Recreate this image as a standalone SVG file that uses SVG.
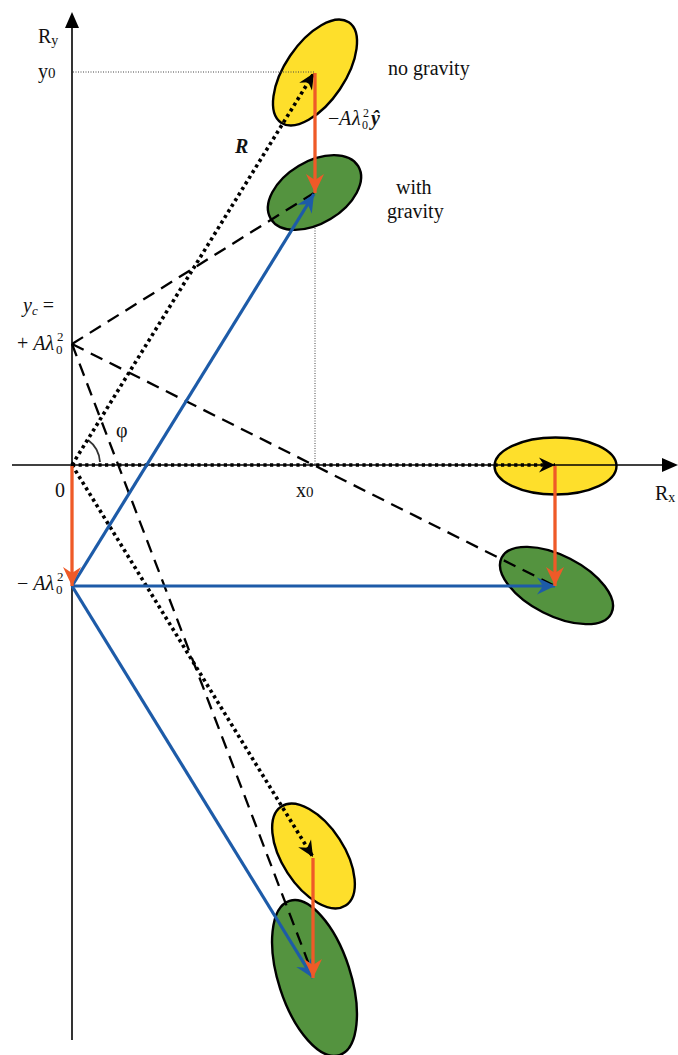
<svg xmlns="http://www.w3.org/2000/svg" width="678" height="1055" viewBox="0 0 678 1055">
<style>
.t{font-family:"Liberation Serif","Times New Roman",serif;font-size:20px;fill:#111}
.i{font-style:italic}
.yel{fill:#FEDF2B;stroke:#000;stroke-width:2.4}
.grn{fill:#54933F;stroke:#000;stroke-width:2.4}
.dot{fill:none;stroke:#000;stroke-width:3.6;stroke-dasharray:3.2 3.4}
.dash{fill:none;stroke:#000;stroke-width:2.3;stroke-dasharray:13 8}
.red{fill:none;stroke:#EF5A28;stroke-width:3.3}
.blue{fill:none;stroke:#1D5BA8;stroke-width:3.2}
.thin{fill:none;stroke:#444;stroke-width:1;stroke-dasharray:1 1.5}
.axis{fill:none;stroke:#000;stroke-width:1.6}
</style>
<defs>
<marker id="mk" viewBox="-18 -9 20 18" refX="0" refY="0" markerWidth="20" markerHeight="18" markerUnits="userSpaceOnUse" orient="auto"><path d="M0,0 L-16,-7.5 L-11,0 L-16,7.5 Z" fill="#000"/></marker>
<marker id="mr" viewBox="-20 -10 22 20" refX="0" refY="0" markerWidth="22" markerHeight="20" markerUnits="userSpaceOnUse" orient="auto"><path d="M0,0 L-19,-9 L-13,0 L-19,9 Z" fill="#EF5A28"/></marker>
<marker id="mb" viewBox="-20 -10 22 20" refX="0" refY="0" markerWidth="22" markerHeight="20" markerUnits="userSpaceOnUse" orient="auto"><path d="M0,0 L-18,-8.5 L-12,0 L-18,8.5 Z" fill="#1D5BA8"/></marker>
</defs>

<g id="node-top-yellow"><ellipse class="yel" cx="315" cy="72.5" rx="60.5" ry="30" transform="rotate(-56 315 72.5)"/></g>
<g id="node-top-green"><ellipse class="grn" cx="314.5" cy="192.5" rx="51" ry="31" transform="rotate(-31 314.5 192.5)"/></g>
<g id="node-right-yellow"><ellipse class="yel" cx="555.5" cy="466" rx="61" ry="28.5"/></g>
<g id="node-right-green"><ellipse class="grn" cx="556.5" cy="585.5" rx="61.5" ry="30" transform="rotate(27 556.5 585.5)"/></g>
<g id="node-bottom-yellow"><ellipse class="yel" cx="313.5" cy="856" rx="59" ry="31" transform="rotate(57 313.5 856)"/></g>
<g id="node-bottom-green"><ellipse class="grn" cx="314.5" cy="978" rx="81" ry="36" transform="rotate(72 314.5 978)"/></g>

<g id="connectors">
  <line class="axis" x1="72" y1="24" x2="72" y2="1040"/>
  <polygon points="72,12 65,28 79,28" fill="#000"/>
  <line class="axis" x1="12" y1="465" x2="665" y2="465"/>
  <polygon points="678,465 662,458 662,472" fill="#000"/>
  <line class="thin" x1="73" y1="72" x2="315" y2="72"/>
  <line class="thin" x1="315" y1="228" x2="315" y2="465"/>
  <path d="M88,440 Q99,448 100,462" fill="none" stroke="#333" stroke-width="1.8"/>
  <line class="dot" x1="72" y1="465" x2="314" y2="73" marker-end="url(#mk)"/>
  <line class="dot" x1="72" y1="465" x2="555" y2="465" marker-end="url(#mk)"/>
  <line class="dot" x1="72" y1="465" x2="313" y2="857" marker-end="url(#mk)"/>
  <line class="dash" x1="72" y1="344" x2="314" y2="193"/>
  <line class="dash" x1="72" y1="344" x2="555" y2="586"/>
  <line class="dash" x1="72" y1="344" x2="313" y2="975"/>
  <line class="blue" x1="72" y1="586" x2="314" y2="194" marker-end="url(#mb)"/>
  <line class="blue" x1="72" y1="586" x2="555" y2="586" marker-end="url(#mb)"/>
  <line class="blue" x1="72" y1="586" x2="313" y2="978" marker-end="url(#mb)"/>
  <line class="red" x1="72" y1="466" x2="72" y2="586" marker-end="url(#mr)"/>
  <line class="red" x1="315" y1="73" x2="315" y2="193" marker-end="url(#mr)"/>
  <line class="red" x1="555" y1="466" x2="555" y2="586" marker-end="url(#mr)"/>
  <line class="red" x1="313" y1="858" x2="313" y2="978" marker-end="url(#mr)"/>
</g>

<g id="labels">
  <text class="t" x="38" y="43">R<tspan font-size="14" dy="2">y</tspan></text>
  <text class="t" x="38" y="78">y<tspan font-size="15">0</tspan></text>
  <text class="t" x="388" y="75" font-size="21.5">no gravity</text>
  <text class="t" x="396" y="194" font-size="21.5">with</text>
  <text class="t" x="387" y="218" font-size="21.5">gravity</text>
  <text class="t" x="235" y="153" font-size="18" font-weight="bold" font-style="italic">R</text>
  <text class="t" x="328" y="125">−<tspan class="i" x="339">A</tspan><tspan class="i" x="352">λ</tspan><tspan x="362" y="129" font-size="12">0</tspan><tspan x="363" y="117" font-size="12">2</tspan><tspan x="371" y="125" font-weight="bold" font-style="italic">ŷ</tspan></text>
  <text class="t" x="23" y="312" font-size="21"><tspan class="i">y</tspan><tspan class="i" font-size="13" dy="3">c</tspan><tspan dy="-3"> =</tspan></text>
  <text class="t" x="17" y="350" font-size="21">+ <tspan class="i">A</tspan><tspan class="i">λ</tspan><tspan x="56" y="354" font-size="13">0</tspan><tspan x="57" y="341" font-size="13">2</tspan></text>
  <text class="t" x="116" y="437" font-size="19">φ</text>
  <text class="t" x="55" y="497">0</text>
  <text class="t" x="296" y="497">x<tspan font-size="15">0</tspan></text>
  <text class="t" x="655" y="500">R<tspan font-size="14" dy="2">x</tspan></text>
  <text class="t" x="17" y="590" font-size="21">− <tspan class="i">A</tspan><tspan class="i">λ</tspan><tspan x="56" y="594" font-size="13">0</tspan><tspan x="57" y="581" font-size="13">2</tspan></text>
</g>
</svg>
